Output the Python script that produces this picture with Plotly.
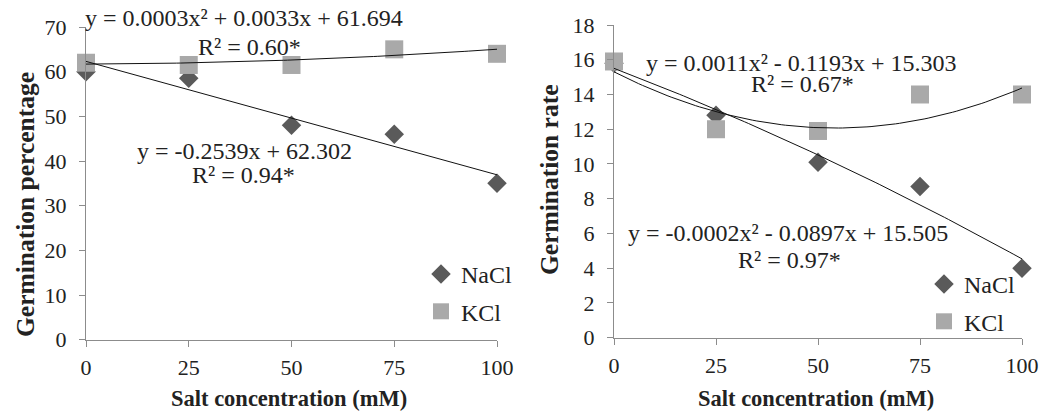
import numpy as np
import plotly.graph_objects as go

# ---- data ----
conc = [0, 25, 50, 75, 100]
pct_nacl = [60.0, 58.5, 48.0, 46.0, 35.0]
pct_kcl = [62.0, 61.5, 61.5, 65.0, 64.0]
rate_nacl = [15.8, 12.8, 10.1, 8.7, 4.0]
rate_kcl = [15.9, 12.0, 11.9, 14.0, 14.0]

# trendline coefficients (highest power first) as printed on the chart
fit_pct_nacl = [-0.2539, 62.302]
fit_pct_kcl = [0.0003, 0.0033, 61.694]
fit_rate_nacl = [-0.0002, -0.0897, 15.505]
fit_rate_kcl = [0.0011, -0.1193, 15.303]

eq_texts = {
    "pct_kcl": ("y = 0.0003x² + 0.0033x + 61.694", "R² = 0.60*"),
    "pct_nacl": ("y = -0.2539x + 62.302", "R² = 0.94*"),
    "rate_kcl": ("y = 0.0011x² - 0.1193x + 15.303", "R² = 0.67*"),
    "rate_nacl": ("y = -0.0002x² - 0.0897x + 15.505", "R² = 0.97*"),
}

x_ticks = [0, 25, 50, 75, 100]
pct_ticks = list(range(0, 71, 10))
rate_ticks = list(range(0, 19, 2))

# ---- style ----
FONT = "Liberation Serif"
C_NACL = "#5a5a5a"
C_KCL = "#a9a9a9"
C_AX = "#8c8c8c"
TXT = "#222222"

W, H = 1042, 412
def px(x):
    return x / W
def py(y):
    return (H - y) / H

fig = go.Figure()
xs = np.linspace(0, 100, 101)

def add_panel(xa, ya, nacl, kcl, fn, fk, legend, tag):
    fig.add_trace(go.Scatter(x=conc, y=nacl, mode="markers", name="NaCl",
                             marker=dict(symbol="diamond", size=15, color=C_NACL),
                             xaxis=xa, yaxis=ya, legend=legend, legendgroup="n" + tag,
                             cliponaxis=False))
    fig.add_trace(go.Scatter(x=conc, y=kcl, mode="markers", name="KCl",
                             marker=dict(symbol="square", size=18, color=C_KCL),
                             xaxis=xa, yaxis=ya, legend=legend, legendgroup="k" + tag,
                             cliponaxis=False))
    for f in (fn, fk):
        fig.add_trace(go.Scatter(x=xs, y=np.polyval(f, xs), mode="lines",
                                 line=dict(color="#111111", width=1),
                                 xaxis=xa, yaxis=ya, showlegend=False,
                                 cliponaxis=False, hoverinfo="skip"))

add_panel("x", "y", pct_nacl, pct_kcl, fit_pct_nacl, fit_pct_kcl, "legend", "1")
add_panel("x2", "y2", rate_nacl, rate_kcl, fit_rate_nacl, fit_rate_kcl, "legend2", "2")

axis_common = dict(showgrid=False, zeroline=False, showline=True, linecolor=C_AX,
                   linewidth=1, ticks="outside", ticklen=6, tickcolor=C_AX,
                   automargin=False,
                   tickfont=dict(family=FONT, size=22, color=TXT))

fig.update_layout(
    width=W, height=H, margin=dict(l=0, r=0, t=0, b=0, autoexpand=False),
    paper_bgcolor="white", plot_bgcolor="white",
    font=dict(family=FONT, size=22, color=TXT),
    xaxis=dict(domain=[px(86), px(497)], range=[0, 100], tickvals=x_ticks,
               anchor="y", ticklabelstandoff=2, **axis_common),
    yaxis=dict(domain=[py(339.7), py(27)], range=[0, 70], tickvals=pct_ticks,
               anchor="x", ticklabelstandoff=8, **axis_common),
    xaxis2=dict(domain=[px(614), px(1022)], range=[0, 100], tickvals=x_ticks,
                anchor="y2", ticklabelstandoff=2, **axis_common),
    yaxis2=dict(domain=[py(337.7), py(25)], range=[0, 18], tickvals=rate_ticks,
                anchor="x2", ticklabelstandoff=8, **axis_common),
    legend=dict(x=px(421), y=py(252), xanchor="left", yanchor="top",
                bgcolor="rgba(0,0,0,0)", font=dict(family=FONT, size=24, color=TXT),
                tracegroupgap=3, itemwidth=30),
    legend2=dict(x=px(924), y=py(262), xanchor="left", yanchor="top",
                 bgcolor="rgba(0,0,0,0)", font=dict(family=FONT, size=24, color=TXT),
                 tracegroupgap=3, itemwidth=30),
    showlegend=True,
)

def ann(x, y, text, size=22, **kw):
    fig.add_annotation(x=px(x), y=py(y), xref="paper", yref="paper", text=text,
                       showarrow=False, xanchor="center", yanchor="middle",
                       font=dict(family=FONT, size=size, color=TXT), **kw)

EQ = 24
ann(244, 18, eq_texts["pct_kcl"][0], size=EQ)
ann(249, 47, eq_texts["pct_kcl"][1], size=EQ)
ann(244, 151, eq_texts["pct_nacl"][0], size=EQ)
ann(243, 175, eq_texts["pct_nacl"][1], size=EQ)
ann(801, 63, eq_texts["rate_kcl"][0], size=EQ)
ann(802, 84, eq_texts["rate_kcl"][1], size=EQ)
ann(788, 233, eq_texts["rate_nacl"][0], size=EQ)
ann(789, 260, eq_texts["rate_nacl"][1], size=EQ)

ann(289, 398, "<b>Salt concentration (mM)</b>", size=22.5)
ann(816, 398, "<b>Salt concentration (mM)</b>", size=22.5)
ann(25, 205, "<b>Germination percentage</b>", size=25.5, textangle=-90)
ann(549, 180, "<b>Germination rate</b>", size=25.5, textangle=-90)

fig.write_html("out.html")
